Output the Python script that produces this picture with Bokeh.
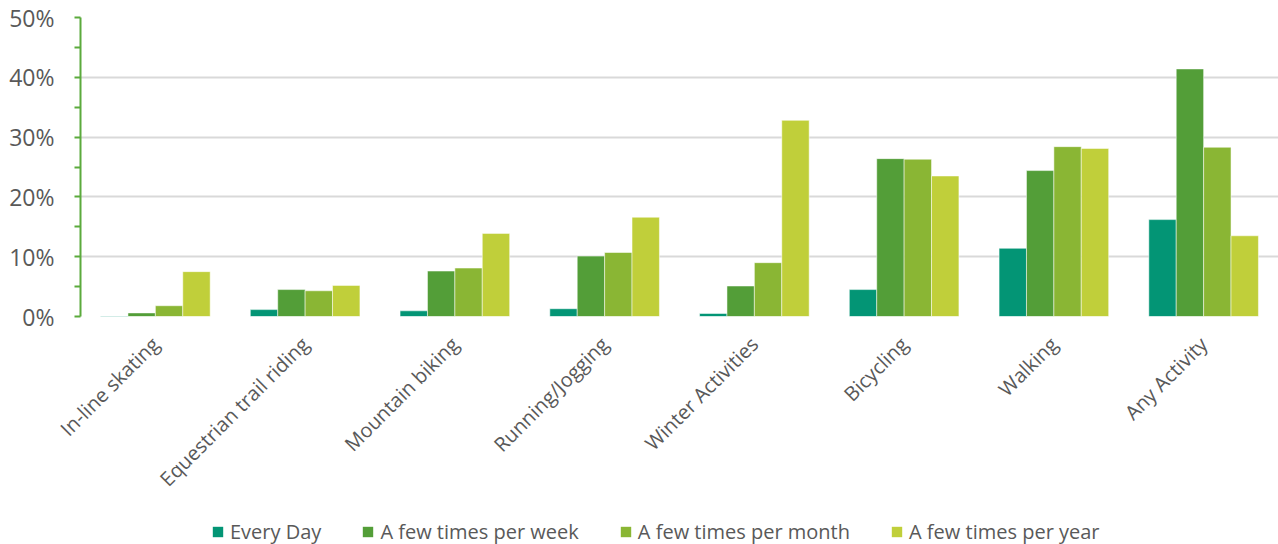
import math
from bokeh.plotting import figure
from bokeh.layouts import column
from bokeh.models import ColumnDataSource, FactorRange, Range1d, Legend, LegendItem, NumeralTickFormatter, FixedTicker
from bokeh.transform import dodge
from bokeh.embed import file_html
from bokeh.resources import INLINE

categories = ["In-line skating", "Equestrian trail riding", "Mountain biking", "Running/Jogging",
              "Winter Activities", "Bicycling", "Walking", "Any Activity"]
every_day = [0.1, 1.15, 0.95, 1.3, 0.5, 4.5, 11.4, 16.2]
per_week = [0.6, 4.5, 7.6, 10.1, 5.1, 26.4, 24.4, 41.4]
per_month = [1.8, 4.3, 8.1, 10.7, 9.0, 26.3, 28.4, 28.3]
per_year = [7.5, 5.2, 13.9, 16.6, 32.8, 23.5, 28.1, 13.5]
series_names = ["Every Day", "A few times per week", "A few times per month", "A few times per year"]
colors = ["#039575", "#539E38", "#8AB634", "#C0CF3A"]

src = ColumnDataSource(dict(cat=categories,
                            s0=[v / 100 for v in every_day],
                            s1=[v / 100 for v in per_week],
                            s2=[v / 100 for v in per_month],
                            s3=[v / 100 for v in per_year]))

FONT = "Open Sans"
p = figure(width=1278, height=508, x_range=FactorRange(*categories, range_padding=0),
           y_range=Range1d(0, 0.5), output_backend="svg", toolbar_location=None,
           min_border_left=80, min_border_right=0, min_border_top=17, min_border_bottom=192)
p.outline_line_color = None
p.background_fill_color = "white"

bw = 0.183
offsets = [-1.5 * bw, -0.5 * bw, 0.5 * bw, 1.5 * bw]
for i, c in enumerate(colors):
    p.vbar(x=dodge("cat", offsets[i], range=p.x_range), top="s%d" % i, width=bw, source=src,
           fill_color=c, line_color="white", line_alpha=0.5, line_width=1)

# y axis
p.yaxis.ticker = FixedTicker(ticks=[0, 0.1, 0.2, 0.3, 0.4, 0.5], minor_ticks=[0.05, 0.15, 0.25, 0.35, 0.45])
p.yaxis.formatter = NumeralTickFormatter(format="0%")
p.yaxis.axis_line_color = "#5BAA3C"
p.yaxis.axis_line_width = 2
p.yaxis.major_tick_line_color = "#5BAA3C"
p.yaxis.minor_tick_line_color = "#5BAA3C"
p.yaxis.major_tick_line_width = 2
p.yaxis.minor_tick_line_width = 2
p.yaxis.major_tick_out = 6
p.yaxis.major_tick_in = 0
p.yaxis.minor_tick_out = 6
p.yaxis.minor_tick_in = 0
p.yaxis.major_label_text_font = FONT
p.yaxis.major_label_text_font_size = "23px"
p.yaxis.major_label_text_color = "#595959"
p.yaxis.major_label_standoff = 20

# x axis
p.xaxis.axis_line_color = None
p.xaxis.major_tick_line_color = None
p.xaxis.minor_tick_line_color = None
p.xaxis.major_label_orientation = math.pi / 4
p.xaxis.major_label_text_font = FONT
p.xaxis.major_label_text_font_size = "20px"
p.xaxis.major_label_text_color = "#595959"
p.xaxis.major_label_standoff = 18

p.xgrid.grid_line_color = None
p.ygrid.grid_line_color = "#D9D9D9"
p.ygrid.grid_line_width = 2

# legend strip
lf = figure(width=1278, height=36, x_range=Range1d(0, 1), y_range=Range1d(0, 1),
            output_backend="svg", toolbar_location=None,
            x_axis_location=None, y_axis_location=None,
            min_border_left=0, min_border_right=0, min_border_top=0, min_border_bottom=0)
lf.grid.visible = False
lf.outline_line_color = None
items = []
for name, c in zip(series_names, colors):
    r = lf.vbar(x=[5], top=[5], bottom=[4], width=0.1, fill_color=c, line_color=None)
    items.append(LegendItem(label=name, renderers=[r]))
legend = Legend(items=items, orientation="horizontal", location=(131, -1),
                glyph_width=13, glyph_height=13, label_standoff=6, spacing=40,
                label_text_font=FONT, label_text_font_size="20px", label_text_color="#595959",
                border_line_color=None, background_fill_alpha=0, padding=0, margin=0)
lf.add_layout(legend, "center")

open("out.html", "w").write(file_html(column(p, lf, spacing=0), INLINE))
